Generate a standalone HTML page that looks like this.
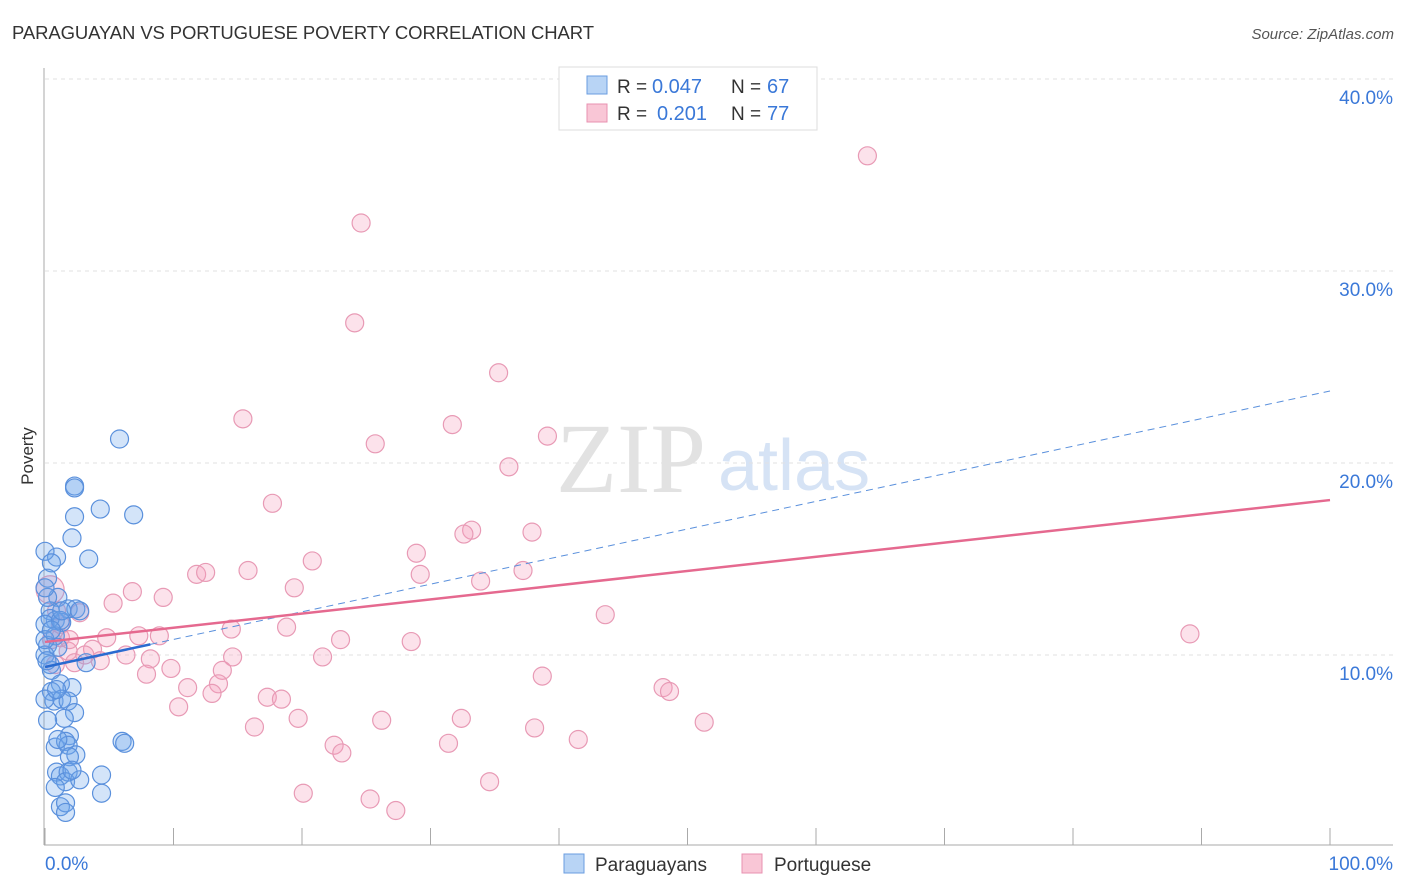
<!DOCTYPE html>
<html><head><meta charset="utf-8"><style>
body{margin:0;background:#fff;font-family:"Liberation Sans",sans-serif;}
#wrap{position:relative;width:1406px;height:892px;overflow:hidden}
</style></head><body><div id="wrap">
<svg id="svg" width="1406" height="892" xmlns="http://www.w3.org/2000/svg">
<text x="12" y="39" font-size="18.5" fill="#333" textLength="582">PARAGUAYAN VS PORTUGUESE POVERTY CORRELATION CHART</text>
<text x="1394" y="39" font-size="15" fill="#555" font-style="italic" text-anchor="end">Source: ZipAtlas.com</text>
<text x="33" y="456" font-size="17" fill="#333" transform="rotate(-90 33 456)" text-anchor="middle">Poverty</text>
<text x="556" y="492" font-size="100" fill="#e2e2e2" font-family="Liberation Serif,serif">ZIP</text>
<text x="718" y="490" font-size="72" fill="#d6e3f5">atlas</text>
<g id="grid"></g><g id="marks"></g>
<g>
<rect x="559" y="67" width="258" height="63" fill="#fff" stroke="#ddd"/>
<rect x="587" y="76" width="20" height="18" fill="#b8d4f5" stroke="#6a9de0"/>
<rect x="587" y="104" width="20" height="18" fill="#f9c6d6" stroke="#e891b0"/>
<text x="617" y="93" font-size="19" fill="#333">R =</text>
<text x="652" y="93" font-size="20" fill="#3a78d8">0.047</text>
<text x="731" y="93" font-size="19" fill="#333">N =</text>
<text x="767" y="93" font-size="20" fill="#3a78d8">67</text>
<text x="617" y="120" font-size="19" fill="#333">R =</text>
<text x="657" y="120" font-size="20" fill="#3a78d8">0.201</text>
<text x="731" y="120" font-size="19" fill="#333">N =</text>
<text x="767" y="120" font-size="20" fill="#3a78d8">77</text>
</g>
<g>
<rect x="564" y="854" width="20" height="19" fill="#b8d4f5" stroke="#6a9de0"/>
<text x="595" y="871" font-size="19" fill="#333">Paraguayans</text>
<rect x="742" y="854" width="20" height="19" fill="#f9c6d6" stroke="#e891b0"/>
<text x="774" y="871" font-size="19" fill="#333">Portuguese</text>
</g>
</svg></div>
<script>
const blueX=[5.8,2.3,2.3,4.3,6.9,2.3,2.1,3.4,0.9,0.0,0.5,0.2,1.0,0.4,1.8,2.4,0.8,1.3,0.4,0.0,0.8,0.2,1.0,0.0,0.4,0.5,1.2,2.1,0.5,0.7,1.3,1.8,2.3,1.5,0.8,1.9,1.6,1.8,2.4,1.9,6.0,6.2,0.9,1.2,1.8,1.6,2.7,4.4,0.8,4.4,1.2,1.6,1.6,0.15,3.2,0.0,0.0,1.0,1.2,2.7,0.2,0.0,1.3,0.5,0.9,0.2,2.1];
const blueY=[21.25,18.8,18.7,17.6,17.3,17.2,16.1,15.0,15.1,15.4,14.8,14.0,13.0,12.3,12.4,12.4,11.8,11.7,11.9,11.6,11.0,10.5,10.4,10.0,9.5,9.2,8.5,8.3,8.1,7.6,7.7,7.6,7.0,6.7,5.2,5.8,5.5,5.3,4.8,4.7,5.5,5.4,3.9,3.7,3.9,3.4,3.5,3.75,3.1,2.8,2.1,2.3,1.8,9.7,9.6,7.7,10.8,5.6,11.8,12.3,13.0,13.5,12.3,11.3,8.2,6.6,4.0];
const pinkX=[64.0,24.6,24.1,35.3,15.4,31.7,25.7,39.1,36.1,17.7,33.2,32.6,37.9,28.9,20.8,11.8,12.5,15.8,29.2,37.2,33.9,19.4,6.8,9.2,5.3,2.7,43.6,89.1,14.5,18.8,23.0,28.5,4.8,7.3,8.9,0.9,1.2,3.7,1.8,4.3,6.3,8.2,2.3,14.6,21.6,9.8,13.8,7.9,38.7,11.1,13.5,13.0,17.3,18.4,10.4,48.1,48.6,16.3,19.7,26.2,32.4,51.3,38.1,22.5,23.1,31.4,41.5,20.1,25.3,27.3,34.6,0.4,0.5,3.1,0.8,1.9,1.2];
const pinkY=[36.0,32.5,27.3,24.7,22.3,22.0,21.0,21.4,19.8,17.9,16.5,16.3,16.4,15.3,14.9,14.2,14.3,14.4,14.2,14.4,13.85,13.5,13.3,13.0,12.7,12.2,12.1,11.1,11.35,11.45,10.8,10.7,10.9,11.0,11.0,12.3,10.9,10.3,10.2,9.7,10.0,9.8,9.6,9.9,9.9,9.3,9.2,9.0,8.9,8.3,8.5,8.0,7.8,7.7,7.3,8.3,8.1,6.25,6.7,6.6,6.7,6.5,6.2,5.3,4.9,5.4,5.6,2.8,2.5,1.9,3.4,13.4,10.8,10.0,9.5,10.8,11.6];
const yTicks=[10,20,30,40];
const yTickLabels=["10.0%","20.0%","30.0%","40.0%"];
const xTickVals=[0,10,20,30,40,50,60,70,80,90,100];
const blueTrend=[9.375,23.75];
const pinkTrend=[10.68,18.07];
const blueSolidEnd=8.2;

const sx=v=>45+v*12.85, sy=v=>847-v*19.2;
const NS="http://www.w3.org/2000/svg";
function mk(t,a,p){const e=document.createElementNS(NS,t);for(const k in a)e.setAttribute(k,a[k]);p.appendChild(e);return e;}
const grid=document.getElementById('grid'), marks=document.getElementById('marks');
yTicks.forEach((t,i)=>{
 const l=mk('line',{x1:45,x2:1393,y1:sy(t),y2:sy(t),stroke:'#e2e2e2','stroke-dasharray':'4,4'},grid);
 
 
 const tx=mk('text',{x:1393,y:sy(t)+25,'font-size':19,fill:'#3a78d8','text-anchor':'end'},grid);
 tx.textContent=yTickLabels[i];
 
 
});
const ax=mk('line',{x1:44,x2:44,y1:68,y2:845,stroke:'#aaa'},grid);


const bx=mk('line',{x1:44,x2:1393,y1:845,y2:845,stroke:'#aaa'},grid);


xTickVals.forEach(v=>{const l=mk('line',{x1:sx(v),x2:sx(v),y1:828,y2:845,stroke:'#aaa'},grid);
 
 });
const x0=mk('text',{x:45,y:870,'font-size':19,fill:'#3a78d8'},grid);x0.textContent='0.0%';


const x1=mk('text',{x:1393,y:870,'font-size':19,fill:'#3a78d8','text-anchor':'end'},grid);x1.textContent='100.0%';



pinkX.forEach((x,i)=>{const c=mk('circle',{cx:sx(x),cy:sy(pinkY[i]),r:(i==71?14:9),fill:'rgba(244,160,190,0.3)',stroke:'#e89ab5','stroke-width':1.2},marks);
 
 });
blueX.forEach((x,i)=>{const c=mk('circle',{cx:sx(x),cy:sy(blueY[i]),r:9,fill:'rgba(110,165,235,0.3)',stroke:'#5a90dc','stroke-width':1.2},marks);
 
 });
const bt=v=>blueTrend[0]+(blueTrend[1]-blueTrend[0])*v/100;
const d=mk('line',{x1:sx(blueSolidEnd),y1:sy(bt(blueSolidEnd)),x2:sx(100),y2:sy(bt(100)),stroke:'#5a90dc','stroke-width':1,'stroke-dasharray':'7,5'},marks);


const s=mk('line',{x1:sx(0),y1:sy(bt(0)),x2:sx(blueSolidEnd),y2:sy(bt(blueSolidEnd)),stroke:'#2a6bd0','stroke-width':2.5},marks);


const p=mk('line',{x1:sx(0),y1:sy(pinkTrend[0]),x2:sx(100),y2:sy(pinkTrend[1]),stroke:'#e5698f','stroke-width':2.5},marks);


</script></body></html>
